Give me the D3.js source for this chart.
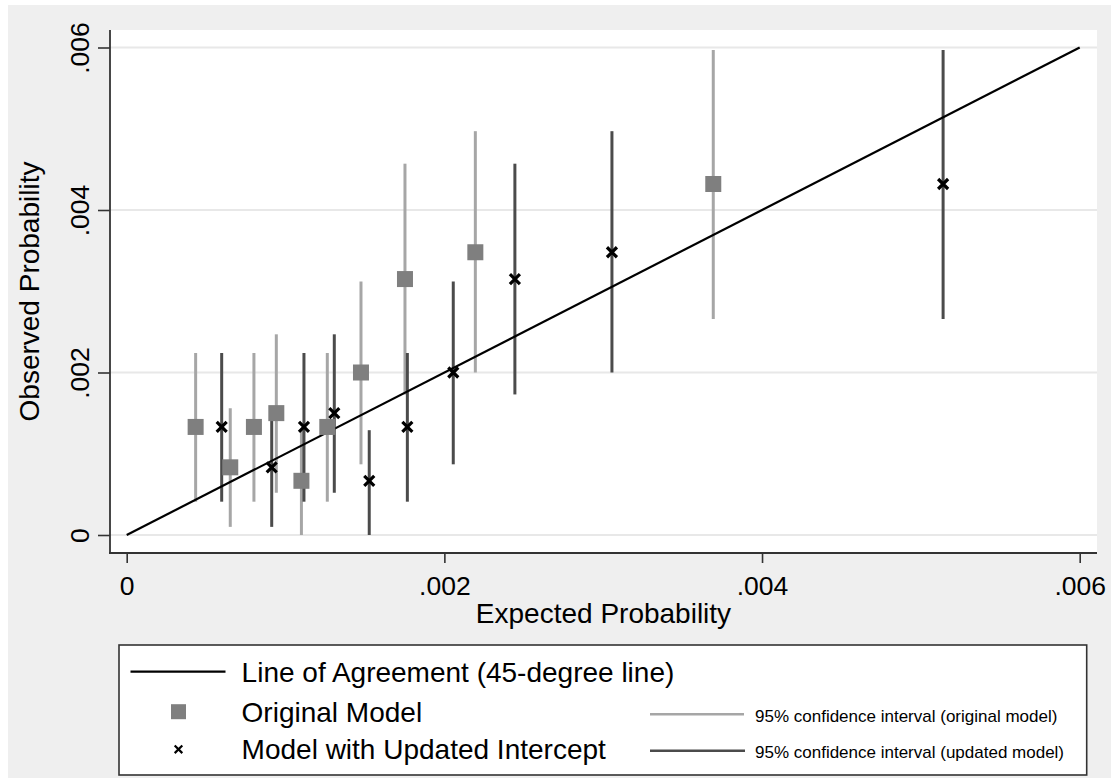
<!DOCTYPE html>
<html>
<head>
<meta charset="utf-8">
<script src="https://cdn.jsdelivr.net/npm/d3@7"></script>
<style>
  html, body { margin: 0; padding: 0; background: #ffffff; }
  svg { display: block; }
  text { font-family: "Liberation Sans", Arial, sans-serif; fill: #000; }
</style>
</head>
<body>
<svg id="chart" width="1111" height="778"></svg>
<script>
// Calibration by risk group: expected probability under each model,
// observed probability and its 95% confidence interval.
const expectedOriginal = [0.000434, 0.000652, 0.000801, 0.000942, 0.00110, 0.001263, 0.001475, 0.001752, 0.002195, 0.003693];
const expectedUpdated  = [0.000598, 0.000913, 0.001116, 0.001307, 0.001527, 0.001767, 0.002056, 0.002444, 0.003055, 0.00514];
const observed         = [0.00133, 0.000833, 0.00133, 0.0015, 0.000667, 0.00133, 0.002, 0.00315, 0.00348, 0.00432];
const ciLower          = [0.00041, 0.0001, 0.00041, 0.00052, 0, 0.00041, 0.00087, 0.00173, 0.002, 0.00266];
const ciUpper          = [0.00224, 0.00156, 0.00224, 0.00247, 0.00129, 0.00224, 0.00312, 0.00457, 0.00497, 0.00597];
const tickValues       = [0, 0.002, 0.004, 0.006];
const tickLabels       = ["0", ".002", ".004", ".006"];
const agreementLine    = [0, 0.006];

const legendMain = ["Line of Agreement (45-degree line)", "Original Model", "Model with Updated Intercept"];
const legendCI   = ["95% confidence interval (original model)", "95% confidence interval (updated model)"];

const colors = {
  page: "#efefef",
  plot: "#ffffff",
  grid: "#e8e8e8",
  axis: "#333333",
  ciOriginal: "#a6a6a6",
  ciUpdated: "#4b4b4b",
  square: "#7f7f7f",
  cross: "#000000"
};

const svg = d3.select("#chart");
const W = 1111, H = 778;
const plot = { left: 110, right: 1097, top: 30, bottom: 553 };

const x = d3.scaleLinear().domain([0, 0.006]).range([126.7, 1079.7]);
const y = d3.scaleLinear().domain([0, 0.006]).range([535, 47.5]);

// page and plot backgrounds
svg.append("rect").attr("x", 8).attr("y", 5).attr("width", W - 8).attr("height", H - 5).attr("fill", colors.page);
svg.append("rect").attr("x", plot.left).attr("y", plot.top)
  .attr("width", plot.right - plot.left).attr("height", plot.bottom - plot.top).attr("fill", colors.plot);

// horizontal gridlines
svg.append("g").selectAll("line").data(tickValues).join("line")
  .attr("x1", plot.left).attr("x2", plot.right)
  .attr("y1", d => y(d)).attr("y2", d => y(d))
  .attr("stroke", colors.grid).attr("stroke-width", 2);

const groups = d3.range(observed.length);

// confidence intervals
svg.append("g").selectAll("line").data(groups).join("line")
  .attr("x1", i => x(expectedOriginal[i])).attr("x2", i => x(expectedOriginal[i]))
  .attr("y1", i => y(ciLower[i])).attr("y2", i => y(ciUpper[i]))
  .attr("stroke", colors.ciOriginal).attr("stroke-width", 3);

svg.append("g").selectAll("line").data(groups).join("line")
  .attr("x1", i => x(expectedUpdated[i])).attr("x2", i => x(expectedUpdated[i]))
  .attr("y1", i => y(ciLower[i])).attr("y2", i => y(ciUpper[i]))
  .attr("stroke", colors.ciUpdated).attr("stroke-width", 3);

// 45-degree line of agreement
svg.append("path")
  .datum(agreementLine)
  .attr("d", d3.line().x(d => x(d)).y(d => y(d)))
  .attr("stroke", "#000").attr("stroke-width", 2.2).attr("fill", "none");

// original model markers
const sq = 16;
svg.append("g").selectAll("rect").data(groups).join("rect")
  .attr("x", i => x(expectedOriginal[i]) - sq / 2)
  .attr("y", i => y(observed[i]) - sq / 2)
  .attr("width", sq).attr("height", sq)
  .attr("fill", colors.square);

// updated-intercept markers
function crossPath(cx, cy, r) {
  return `M${cx - r},${cy - r}L${cx + r},${cy + r}M${cx - r},${cy + r}L${cx + r},${cy - r}`;
}
svg.append("g").selectAll("path").data(groups).join("path")
  .attr("d", i => crossPath(x(expectedUpdated[i]), y(observed[i]), 5))
  .attr("stroke", colors.cross).attr("stroke-width", 3.2).attr("fill", "none");

// axes
const xAxis = d3.axisBottom(x).tickValues(tickValues).tickFormat((d, i) => tickLabels[i])
  .tickSize(10).tickPadding(13);
const gx = svg.append("g").attr("transform", `translate(0,${plot.bottom})`).call(xAxis);
gx.select(".domain").remove();
gx.selectAll(".tick line").attr("stroke", colors.axis).attr("stroke-width", 1.6);
gx.selectAll(".tick text").attr("font-size", 26.5).attr("fill", "#000")
  .attr("font-family", '"Liberation Sans", Arial, sans-serif');

const yAxis = d3.axisLeft(y).tickValues(tickValues).tickFormat((d, i) => tickLabels[i])
  .tickSize(12).tickPadding(0);
const gy = svg.append("g").attr("transform", `translate(${plot.left},0)`).call(yAxis);
gy.select(".domain").remove();
gy.selectAll(".tick line").attr("stroke", colors.axis).attr("stroke-width", 1.6);
gy.selectAll(".tick text")
  .attr("font-size", 26.5).attr("fill", "#000")
  .attr("font-family", '"Liberation Sans", Arial, sans-serif')
  .attr("x", null).attr("dy", null)
  .attr("text-anchor", "middle")
  .attr("transform", "translate(-21,0) rotate(-90)");

// axis lines
svg.append("line").attr("x1", plot.left).attr("x2", plot.left)
  .attr("y1", plot.top).attr("y2", plot.bottom)
  .attr("stroke", colors.axis).attr("stroke-width", 1.8);
svg.append("line").attr("x1", plot.left - 1).attr("x2", plot.right)
  .attr("y1", plot.bottom).attr("y2", plot.bottom)
  .attr("stroke", colors.axis).attr("stroke-width", 1.8);

// axis titles
svg.append("text").attr("x", (plot.left + plot.right) / 2).attr("y", 623)
  .attr("text-anchor", "middle").attr("font-size", 28).text("Expected Probability");
svg.append("text").attr("transform", `translate(39,${(plot.top + plot.bottom) / 2}) rotate(-90)`)
  .attr("text-anchor", "middle").attr("font-size", 28).text("Observed Probability");

// legend
const lg = svg.append("g");
lg.append("rect").attr("x", 119).attr("y", 645).attr("width", 967.7).attr("height", 130)
  .attr("fill", "#fff").attr("stroke", "#333").attr("stroke-width", 1.6);

lg.append("line").attr("x1", 130.5).attr("x2", 225.5).attr("y1", 671.7).attr("y2", 671.7)
  .attr("stroke", "#000").attr("stroke-width", 2.2);
lg.append("rect").attr("x", 178.5 - 7.5).attr("y", 711.7 - 7.5).attr("width", 15).attr("height", 15)
  .attr("fill", colors.square);
lg.append("path").attr("d", crossPath(178.5, 749.3, 3.8))
  .attr("stroke", "#000").attr("stroke-width", 2.2).attr("fill", "none");

lg.selectAll("text.main").data(legendMain).join("text").attr("class", "main")
  .attr("x", 241.6).attr("y", (d, i) => [681.7, 721.7, 759.3][i])
  .attr("font-size", 28).text(d => d);

lg.append("line").attr("x1", 650).attr("x2", 744).attr("y1", 714.3).attr("y2", 714.3)
  .attr("stroke", colors.ciOriginal).attr("stroke-width", 2.6);
lg.append("line").attr("x1", 650).attr("x2", 745).attr("y1", 750.7).attr("y2", 750.7)
  .attr("stroke", colors.ciUpdated).attr("stroke-width", 2.6);
lg.selectAll("text.ci").data(legendCI).join("text").attr("class", "ci")
  .attr("x", 755).attr("y", (d, i) => [721.7, 758.3][i])
  .attr("font-size", 17).text(d => d);
</script>
</body>
</html>
